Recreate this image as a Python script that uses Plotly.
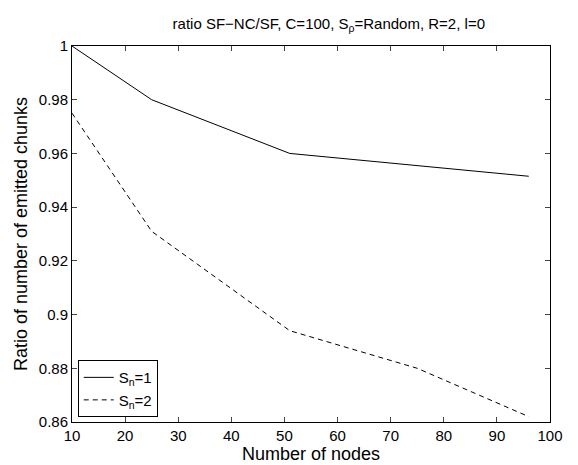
import plotly.graph_objects as go

nodes = [10, 25, 51, 75, 96]
nodes_s1 = [10, 25, 51, 96]
ratio_s1 = [1.0, 0.98, 0.96, 0.9515]
ratio_s2 = [0.975, 0.931, 0.894, 0.88, 0.862]
x_ticks = [10, 20, 30, 40, 50, 60, 70, 80, 90, 100]
y_ticks = [0.86, 0.88, 0.9, 0.92, 0.94, 0.96, 0.98, 1.0]
y_ticktext = ["0.86", "0.88", "0.9", "0.92", "0.94", "0.96", "0.98", "1"]

fig = go.Figure()
fig.add_trace(go.Scatter(x=nodes_s1, y=ratio_s1, mode="lines", name="S<sub>n</sub>=1",
                         line=dict(color="black", width=1)))
fig.add_trace(go.Scatter(x=nodes, y=ratio_s2, mode="lines", name="S<sub>n</sub>=2",
                         line=dict(color="black", width=1, dash="5px,4px")))

font = "Liberation Sans, Arial, sans-serif"
fig.update_layout(
    width=578, height=465,
    margin=dict(l=60, r=36, t=38, b=51),
    paper_bgcolor="white", plot_bgcolor="white",
    font=dict(family=font, size=15, color="black"),
    title=dict(text="ratio SF\u2212NC/SF, C=100, S<sub>\u03c1</sub>=Random, R=2, l=0",
               x=0.555, xanchor="center", y=0.978, yanchor="top",
               font=dict(size=15)),
    xaxis=dict(range=[10, 100], tickvals=x_ticks, ticks="inside", ticklen=5,
               showline=True, linecolor="black", linewidth=1, mirror="ticks",
               showgrid=False, zeroline=False,
               title=dict(text="Number of nodes", standoff=2)),
    yaxis=dict(range=[0.86, 1.0], tickvals=y_ticks, ticktext=y_ticktext,
               ticks="inside", ticklen=5,
               showline=True, linecolor="black", linewidth=1, mirror="ticks",
               showgrid=False, zeroline=False,
               title=dict(text="Ratio of number of emitted chunks", standoff=6)),
    showlegend=True,
    legend=dict(x=0.012, y=0.013, xanchor="left", yanchor="bottom",
                bordercolor="black", borderwidth=1, bgcolor="white",
                font=dict(size=15), tracegroupgap=0),
)
fig.write_html("out.html")
